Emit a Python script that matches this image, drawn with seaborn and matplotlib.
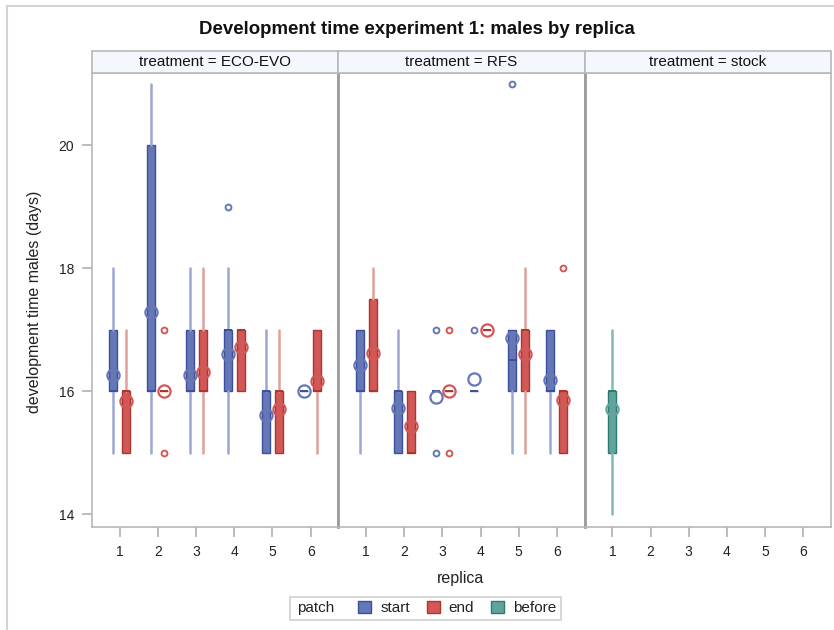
import matplotlib
matplotlib.use("Agg")
import matplotlib.pyplot as plt
from matplotlib.patches import Rectangle
from matplotlib.lines import Line2D
import pandas as pd
import seaborn as sns

# ---- data: summary statistics of male development time (days) ----
treatments = ["ECO-EVO", "RFS", "stock"]
patch_order = ["start", "end", "before"]
replicas = [1, 2, 3, 4, 5, 6]

treatment = ["ECO-EVO"] * 12 + ["RFS"] * 12 + ["stock"]
patch = ["start", "end"] * 12 + ["before"]
replica = [1, 1, 2, 2, 3, 3, 4, 4, 5, 5, 6, 6] * 2 + [1]

whisker_low = [15, 15, 15, 16, 15, 15, 15, 16, 15, 15, 16, 15,
               15, 16, 15, 15, 16, 16, 16, 17, 15, 15, 15, 15,
               14]
q1 = [16, 15, 16, 16, 16, 16, 16, 16, 15, 15, 16, 16,
      16, 16, 15, 15, 16, 16, 16, 17, 16, 16, 16, 15,
      15]
median = [16, 16, 16, 16, 16, 16, 17, 17, 16, 16, 16, 16,
          16, 16, 16, 15, 16, 16, 16, 17, 16.5, 17, 16, 16,
          16]
q3 = [17, 16, 20, 16, 17, 17, 17, 17, 16, 16, 16, 17,
      17, 17.5, 16, 16, 16, 16, 16, 17, 17, 17, 17, 16,
      16]
whisker_high = [18, 17, 21, 16, 18, 18, 18, 17, 17, 17, 16, 17,
                17, 18, 17, 16, 16, 16, 16, 17, 17, 18, 17, 16,
                17]
mean = [16.26, 15.84, 17.28, 16.00, 16.26, 16.31, 16.60, 16.71, 15.61, 15.71, 16.00, 16.16,
        16.42, 16.62, 15.72, 15.43, 15.90, 16.00, 16.20, 17.00, 16.87, 16.60, 16.18, 15.85,
        15.70]
outliers = [[], [], [], [15, 17], [], [], [19], [], [], [], [], [],
            [], [], [], [], [15, 17], [15, 17], [17], [], [21], [], [], [18],
            []]

df = pd.DataFrame({
    "treatment": treatment, "patch": patch, "replica": replica,
    "lo": whisker_low, "q1": q1, "med": median, "q3": q3,
    "hi": whisker_high, "mean": mean, "out": outliers,
})

palette = {
    "start":  {"fill": "#6677b6", "edge": "#3d4f9c", "whisker": "#9aa7d3"},
    "end":    {"fill": "#d25858", "edge": "#ab352d", "whisker": "#dfa09b"},
    "before": {"fill": "#62a49b", "edge": "#2a7b70", "whisker": "#84bab3"},
}

BOX_W = 0.21
DODGE = 0.34


def draw_panel(data, **kws):
    ax = plt.gca()
    present = set(data["patch"])
    groups = [p for p in patch_order if p in present]
    n = len(groups)
    offsets = {g: (i - (n - 1) / 2) * DODGE for i, g in enumerate(groups)}
    for _, row in data.iterrows():
        pos = row["replica"] + offsets[row["patch"]]
        c = palette[row["patch"]]
        stats = dict(whislo=row["lo"], q1=row["q1"], med=row["med"],
                     q3=row["q3"], whishi=row["hi"], fliers=list(row["out"]))
        ax.bxp([stats], positions=[pos], widths=BOX_W, patch_artist=True,
               showfliers=True, showcaps=False, manage_ticks=False,
               boxprops=dict(facecolor=c["fill"], edgecolor=c["edge"], linewidth=1),
               medianprops=dict(color=c["edge"], linewidth=1.4),
               whiskerprops=dict(color=c["whisker"], linewidth=1.8),
               flierprops=dict(marker="o", markersize=4.2, markerfacecolor="none",
                               markeredgecolor=c["fill"], markeredgewidth=1.4))
        ax.plot([pos], [row["mean"]], marker="o", ms=8.8, mfc="none",
                mec=c["fill"], mew=1.6, zorder=5)


sns.set_theme(style="white")
plt.rcParams["font.family"] = ["Liberation Sans", "DejaVu Sans"]

g = sns.FacetGrid(df, col="treatment", col_order=treatments, sharex=True,
                  sharey=True, despine=False, height=4, aspect=0.7)
g.map_dataframe(draw_panel)
fig = g.figure
fig.set_size_inches(8.34, 6.3)
W, H = 834, 630
fig.subplots_adjust(left=92 / W, right=831 / W, bottom=1 - 527 / H,
                    top=1 - 73 / H, wspace=0)
g.set_titles("")
g.set_axis_labels("", "")

axes = g.axes.flat
head_h = 22 / 454
for i, (ax, t) in enumerate(zip(axes, treatments)):
    ax.set_xlim(0.275, 6.725)
    ax.set_ylim(13.789, 21.171)
    ax.set_xticks(replicas)
    ax.set_xticklabels([str(r) for r in replicas])
    ax.set_yticks([14, 16, 18, 20])
    ax.tick_params(axis="x", length=7, width=1.2, color="#b0b0b0", pad=6,
                   labelsize=10, labelcolor="#222222", bottom=True)
    ax.tick_params(axis="y", length=7, width=1.2, color="#b0b0b0", pad=6,
                   labelsize=10, labelcolor="#222222", left=(i == 0))
    for s in ax.spines.values():
        s.set_color("#b8b8b8")
        s.set_linewidth(1.2)
    if i > 0:
        ax.spines["left"].set_color("#9c9c9c")
        ax.spines["left"].set_linewidth(2)
    ax.add_patch(Rectangle((0, 1.0), 1, head_h, transform=ax.transAxes,
                           clip_on=False, facecolor="#f5f7fe",
                           edgecolor="#b8b8b8", linewidth=1.2, zorder=3))
    ax.text(0.5, 1 + head_h / 2, f"treatment = {t}", transform=ax.transAxes,
            ha="center", va="center", fontsize=11, color="#111111", zorder=4)

# figure title and axis labels
fig.text(417 / W, 1 - 30 / H, "Development time experiment 1: males by replica",
         ha="center", va="center", fontsize=13.4, fontweight="bold", color="#111111")
fig.text(461 / W, 1 - 578 / H, "replica", ha="center", va="center",
         fontsize=11.5, color="#222222")
fig.text(35 / W, 1 - 302 / H, "development time males (days)", ha="center",
         va="center", rotation=90, fontsize=11.5, color="#222222")

# legend with inline title inside a light frame
fig.add_artist(Rectangle((290 / W, 1 - 620 / H), 271 / W, 23 / H,
                         transform=fig.transFigure, facecolor="white",
                         edgecolor="#d0d0d0", linewidth=1.2))
fig.text(297 / W, 1 - 608 / H, "patch", ha="left", va="center",
         fontsize=11, color="#222222")
handles = [Rectangle((0, 0), 1, 1, facecolor=palette[p]["fill"],
                     edgecolor=palette[p]["edge"], linewidth=1)
           for p in patch_order]
fig.legend(handles, patch_order, loc="center left",
           bbox_to_anchor=(358 / W, 1 - 608 / H), ncol=3, frameon=False,
           fontsize=11, handlelength=0.85, handleheight=0.85,
           handletextpad=0.6, columnspacing=1.1, borderpad=0,
           borderaxespad=0, labelcolor="#222222")

# outer border of the graph area
fig.add_artist(Line2D([7 / W, 7 / W], [0, 1 - 6 / H], transform=fig.transFigure,
                      color="#d4d4d4", lw=1.5))
fig.add_artist(Line2D([7 / W, 1], [1 - 6 / H, 1 - 6 / H], transform=fig.transFigure,
                      color="#d4d4d4", lw=1.5))

fig.savefig("out.png", dpi=100)
